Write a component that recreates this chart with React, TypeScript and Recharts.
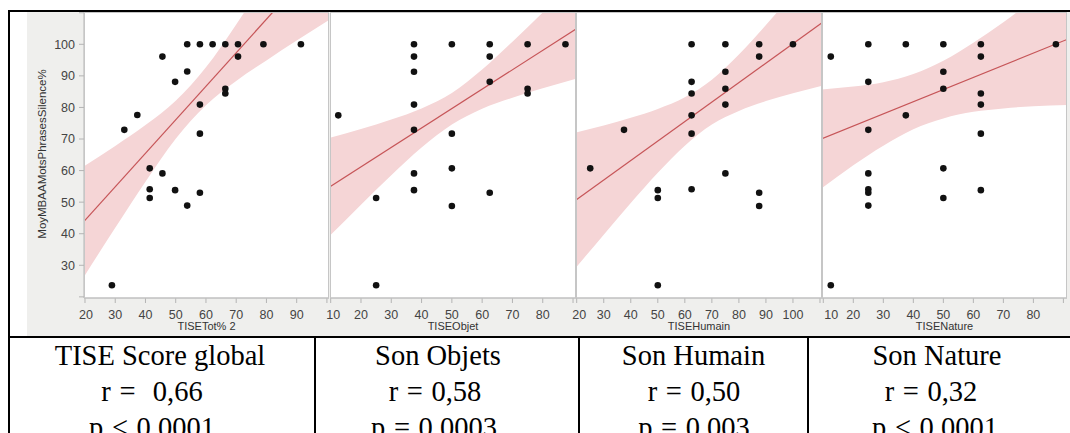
import React from 'react';
import { ComposedChart, Area, Line, Scatter, XAxis, YAxis } from 'recharts';

// Shared y axis: MoyMBAAMotsPhrasesSilence%
const yDomain: [number, number] = [19.64, 110.23];
const yTicks = [20, 30, 40, 50, 60, 70, 80, 90, 100, 110];
const yHidden = [20, 110];

// TISETot% 2
const totX = [53.8, 58.0, 62.2, 66.4, 70.6, 79.0, 91.4, 45.6, 70.6, 53.8, 49.8, 66.4, 66.4, 58.0, 37.3, 33.0, 58.0, 41.4, 45.6, 41.4, 41.4, 49.8, 58.0, 53.8, 28.9];
const totY = [100, 100, 100, 100, 100, 100, 100, 96.1, 96.1, 91.4, 88.1, 85.9, 84.4, 80.9, 77.6, 72.9, 71.7, 60.7, 59.1, 54.1, 51.3, 53.8, 53.0, 48.9, 23.7];
const totTicks = [20, 30, 40, 50, 60, 70, 80, 90, 100];
const totFitX = [19.67, 100.69];
const totFitY = [43.9, 129.9];
const totBandX = [19.67, 30, 40, 50, 60, 70, 80, 90, 100.69];
const totBandLo = [26.4, 41.9, 56.5, 70.1, 80.7, 88.4, 94.9, 101.2, 107.7];
const totBandHi = [61.4, 67.8, 74.4, 82.1, 92.7, 106.3, 120.9, 135.9, 152.1];

// TISEObjet
const objX = [37.5, 50, 62.5, 75, 87.5, 37.5, 62.5, 37.5, 62.5, 75, 75, 37.5, 12.5, 37.5, 50, 50, 37.5, 37.5, 25, 50, 62.5, 25];
const objY = [100, 100, 100, 100, 100, 96.1, 96.1, 91.3, 88.1, 85.9, 84.4, 80.9, 77.5, 72.9, 71.7, 60.7, 59.1, 53.8, 51.3, 48.8, 53.0, 23.7];
const objTicks = [10, 20, 30, 40, 50, 60, 70, 80, 90];
const objFitX = [9.77, 90.98];
const objFitY = [54.9, 104.84];
const objBandX = [9.77, 20, 30, 40, 50, 60, 70, 80, 90.98];
const objBandLo = [39.4, 49.2, 58.5, 67.3, 74.6, 79.6, 83.1, 86.1, 89.1];
const objBandHi = [70.4, 73.2, 76.2, 79.7, 84.6, 92.0, 100.8, 110.1, 120.6];

// TISEHumain
const humX = [62.5, 75, 87.5, 100, 87.5, 75, 62.5, 75, 62.5, 75, 37.5, 62.5, 62.5, 25, 75, 50, 50, 62.5, 87.5, 87.5, 50];
const humY = [100, 100, 100, 100, 96.1, 91.3, 88.1, 85.9, 84.4, 80.9, 72.9, 77.5, 71.7, 60.7, 59.1, 53.8, 51.3, 54.1, 53.0, 48.8, 23.7];
const humTicks = [20, 30, 40, 50, 60, 70, 80, 90, 100, 110];
const humFitX = [19.74, 110.74];
const humFitY = [50.7, 106.85];
const humBandX = [19.74, 30, 40, 50, 60, 70, 80, 90, 100, 110.74];
const humBandLo = [29.3, 39.7, 49.7, 59.3, 67.9, 74.6, 78.9, 82.0, 84.5, 86.9];
const humBandHi = [72.1, 74.3, 76.7, 79.5, 83.2, 88.8, 96.8, 106.1, 116.0, 126.8];

// TISENature
const natX = [12.5, 25, 37.5, 50, 62.5, 87.5, 62.5, 25, 50, 50, 62.5, 62.5, 37.5, 25, 62.5, 50, 25, 25, 25, 25, 50, 62.5, 12.5];
const natY = [96.1, 100, 100, 100, 100, 100, 96.1, 88.1, 91.3, 85.9, 84.4, 80.9, 77.5, 72.9, 71.7, 60.7, 59.1, 54.1, 53.0, 48.9, 51.3, 53.8, 23.7];
const natTicks = [10, 20, 30, 40, 50, 60, 70, 80, 90];
const natFitX = [9.57, 91.2];
const natFitY = [70.1, 101.53];
const natBandX = [9.57, 20, 30, 40, 50, 60, 70, 80, 91.2];
const natBandLo = [54.5, 61.7, 67.9, 73.1, 76.5, 78.6, 79.7, 80.4, 80.8];
const natBandHi = [85.7, 86.6, 88.0, 90.6, 94.8, 100.5, 107.0, 114.1, 122.2];

// table below the plots
const cellTitles = ['TISE Score global', 'Son Objets', 'Son Humain', 'Son Nature'];
const cellR = ['r =  0,66', 'r = 0,58', 'r = 0,50', 'r = 0,32'];
const cellP = ['p < 0.0001', 'p = 0.0003', 'p = 0.003', 'p < 0.0001'];

const SANS = '"Liberation Sans", Arial, sans-serif';
const SERIF = '"Liberation Serif", "Times New Roman", serif';
const BAND = '#f5d5d6';
const FIT = '#c65558';
const AXIS = '#b4b4b4';

const PLOT_TOP = 12;
const PLOT_H = 286;
const AXIS_H = 39;
const PAD = 12; // room left of panels 2-4 so their first tick label is not clipped

const panels = [
  { title: 'TISETot% 2', xs: totX, ys: totY, ticks: totTicks, hideTick: 100, firstShift: 1, domain: [19.67, 100.69], fitX: totFitX, fitY: totFitY, bandX: totBandX, bandLo: totBandLo, bandHi: totBandHi, left: 27, plotLeft: 84, plotRight: 329, yAxis: true },
  { title: 'TISEObjet', xs: objX, ys: objY, ticks: objTicks, hideTick: 90, firstShift: 2.5, domain: [9.77, 90.98], fitX: objFitX, fitY: objFitY, bandX: objBandX, bandLo: objBandLo, bandHi: objBandHi, left: 330 - PAD, plotLeft: 330, plotRight: 576, yAxis: false },
  { title: 'TISEHumain', xs: humX, ys: humY, ticks: humTicks, hideTick: 110, firstShift: 2.5, domain: [19.74, 110.74], fitX: humFitX, fitY: humFitY, bandX: humBandX, bandLo: humBandLo, bandHi: humBandHi, left: 576 - PAD, plotLeft: 576, plotRight: 822, yAxis: false },
  { title: 'TISENature', xs: natX, ys: natY, ticks: natTicks, hideTick: 90, firstShift: 8, domain: [9.57, 91.2], fitX: natFitX, fitY: natFitY, bandX: natBandX, bandLo: natBandLo, bandHi: natBandHi, left: 822 - PAD, plotLeft: 822, plotRight: 1067, yAxis: false },
];

type Panel = (typeof panels)[number];

const makeXTick = (hideAt: number, firstShift: number) => (props: any) => {
  const { x, y, payload, index } = props;
  if (payload.value === hideAt) return <g />;
  return (
    <text x={x + (index === 0 ? firstShift : 0)} y={y} dy="0.71em" textAnchor="middle" fontSize={12.5} fill="#444" fontFamily={SANS}>
      {payload.value}
    </text>
  );
};

const yTick = (props: any) => {
  const { x, y, payload } = props;
  if (yHidden.includes(payload.value)) return <g />;
  return (
    <text x={x} y={y} dy="0.355em" textAnchor="end" fontSize={12.5} fill="#444" fontFamily={SANS}>
      {payload.value}
    </text>
  );
};

const dot = (props: any) => <circle cx={props.cx} cy={props.cy} r={3.3} fill="#111" />;

function PanelChart({ panel }: { panel: Panel }) {
  const band = panel.bandX.map((x, i) => ({ x, range: [panel.bandLo[i], panel.bandHi[i]] }));
  const fit = panel.fitX.map((x, i) => ({ x, fit: panel.fitY[i] }));
  const pts = panel.xs.map((x, i) => ({ x, y: panel.ys[i] }));
  const width = panel.plotRight - panel.left;
  const leftPad = panel.yAxis ? 0 : panel.plotLeft - panel.left;

  return (
    <div style={{ position: 'absolute', left: panel.left, top: PLOT_TOP }}>
      <ComposedChart width={width} height={PLOT_H + AXIS_H} margin={{ top: 0, right: 0, bottom: 0, left: leftPad }}>
        <XAxis
          type="number"
          dataKey="x"
          domain={panel.domain}
          allowDataOverflow
          ticks={panel.ticks}
          interval={0}
          tickSize={5}
          tickMargin={7}
          stroke={AXIS}
          height={AXIS_H}
          tick={makeXTick(panel.hideTick, panel.firstShift)}
          label={{ value: panel.title, position: 'insideBottom', offset: 7, fontSize: 11, fill: '#333', fontFamily: SANS }}
        />
        <YAxis
          type="number"
          dataKey="y"
          domain={yDomain}
          allowDataOverflow
          ticks={yTicks}
          interval={0}
          hide={!panel.yAxis}
          width={panel.plotLeft - panel.left}
          tickSize={5}
          tickMargin={4}
          stroke={AXIS}
          tick={yTick}
        />
        <Area data={band} dataKey="range" type="monotone" stroke="none" fill={BAND} fillOpacity={1} isAnimationActive={false} />
        <Line data={fit} dataKey="fit" type="linear" stroke={FIT} strokeWidth={1.2} dot={false} activeDot={false} isAnimationActive={false} />
        <Scatter data={pts} dataKey="y" shape={dot} isAnimationActive={false} />
      </ComposedChart>
    </div>
  );
}

const titleCx = [160, 438, 693.5, 937];
const rCx = [152, 435, 694, 931];
const pCx = [152, 434, 694, 935];

export default function App() {
  return (
    <div style={{ position: 'absolute', left: 0, top: 0, width: 1070, height: 433, background: '#fff', overflow: 'hidden' }}>
      {/* JMP report backdrop and white plot frames */}
      <div style={{ position: 'absolute', left: 27, top: PLOT_TOP, width: 1043, height: 324, background: '#efefed' }} />
      {panels.map((p) => (
        <div
          key={p.title + '-bg'}
          style={{ position: 'absolute', left: p.plotLeft, top: PLOT_TOP, width: p.plotRight - p.plotLeft, height: PLOT_H, background: '#fff' }}
        />
      ))}

      {panels.map((p) => (
        <PanelChart key={p.title} panel={p} />
      ))}

      <svg width={1070} height={433} style={{ position: 'absolute', left: 0, top: 0, pointerEvents: 'none' }}>
        {panels.map((p) => (
          <rect
            key={p.title + '-frame'}
            x={p.plotLeft + 0.5}
            y={PLOT_TOP + 0.5}
            width={p.plotRight - p.plotLeft - 1}
            height={PLOT_H - 0.5}
            fill="none"
            stroke="#c6c6c6"
          />
        ))}

        <text
          transform="translate(45.5,154) rotate(-90)"
          textAnchor="middle"
          fontSize={11.5}
          fill="#333"
          fontFamily={SANS}
        >
          MoyMBAAMotsPhrasesSilence%
        </text>

        {/* table rules */}
        <rect x={8} y={10} width={1062} height={2} fill="#000" />
        <rect x={8} y={10} width={2} height={423} fill="#000" />
        <rect x={8} y={336} width={1062} height={2} fill="#000" />
        <rect x={314} y={336} width={2} height={97} fill="#000" />
        <rect x={578} y={336} width={2} height={97} fill="#000" />
        <rect x={807} y={336} width={2} height={97} fill="#000" />

        {cellTitles.map((t, i) => (
          <text key={t} x={titleCx[i]} y={365} textAnchor="middle" fontSize={28.5} fontFamily={SERIF} fill="#000">
            {t}
          </text>
        ))}
        {cellR.map((t, i) => (
          <text key={'r' + i} x={rCx[i]} y={401} textAnchor="middle" fontSize={28.5} fontFamily={SERIF} fill="#000" wordSpacing={1.5} style={{ whiteSpace: 'pre' }}>
            {t}
          </text>
        ))}
        {cellP.map((t, i) => (
          <text key={'p' + i} x={pCx[i]} y={437} textAnchor="middle" fontSize={28.5} fontFamily={SERIF} fill="#000" wordSpacing={1.5}>
            {t}
          </text>
        ))}
      </svg>
    </div>
  );
}
